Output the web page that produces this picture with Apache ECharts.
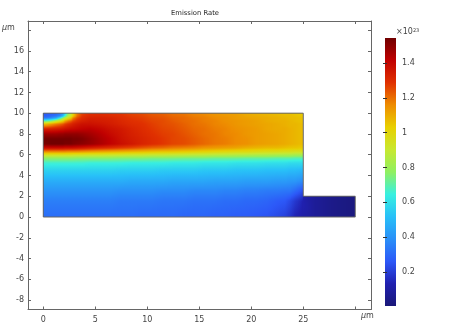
<!DOCTYPE html>
<html>
<head>
<meta charset="utf-8">
<style>html,body{margin:0;background:#fff}#main{width:450px;height:327px}</style>
<script src="https://cdn.jsdelivr.net/npm/echarts@6/dist/echarts.min.js"></script>
</head>
<body>
<div id="main"></div>
<script>
var xTicks = [0, 5, 10, 15, 20, 25, 30];
var xLabels = [0, 5, 10, 15, 20, 25];
var yTicks = [-8, -6, -4, -2, 0, 2, 4, 6, 8, 10, 12, 14, 16, 18];
var yLabels = [-8, -6, -4, -2, 0, 2, 4, 6, 8, 10, 12, 14, 16];
var barTicks = [0.2, 0.4, 0.6, 0.8, 1, 1.2, 1.4];
var barRange = [[0.005, 1.544]];
var valueMin = 0.005;
var valueMax = 1.544;

// outline of the device
var outline = [[0, 0], [0, 10], [25, 10], [25, 2], [30, 2], [30, 0], [0, 0]];

// x positions (um) the columns of the table were read at
var xNodes = [0, .25, .75, 1.25, 1.625, 1.875, 2.125, 2.375, 2.625, 2.875, 3.25, 3.75, 4.5, 5.5, 6.5, 7.5, 8.5, 9.5, 10.5, 11.5, 12.5, 13.5, 14.5, 15.5, 16.5, 17.5, 18.5, 19.5, 20.5, 21.5, 22.5, 23.25, 23.75, 24.25, 24.75, 25];
// heights the rows were read at
var yLevels = [10, 9.75, 9.5, 9.25, 9, 8.5, 8, 7.5, 7, 6.6, 6.3, 6, 5.7, 5.2, 4.5, 3.5, 2.5, 1.5, 0];

// emission rate in 1e23, one row per level, one value per x position
var emission = [
  [.27,.27,.27,.28,.33,.4,.55,.74,.88,1,1.17,1.26, 1.29,1.3,1.29,1.28,1.26,1.25,1.23,1.22,1.2,1.19,1.17,1.16,1.14,1.13,1.12,1.1,1.09,1.08,1.07,1.06,1.06,1.05,1.04,1.04],
  [.28,.28,.3,.33,.38,.5,.66,.84,.93,1.04,1.2,1.28, 1.31,1.31,1.3,1.29,1.27,1.26,1.24,1.23,1.21,1.2,1.18,1.17,1.15,1.14,1.13,1.11,1.1,1.09,1.08,1.07,1.07,1.06,1.05,1.05],
  [.34,.34,.38,.45,.62,.78,.88,.97,1.05,1.17,1.25,1.3, 1.33,1.33,1.32,1.3,1.28,1.27,1.25,1.24,1.22,1.21,1.19,1.18,1.16,1.15,1.13,1.12,1.11,1.1,1.09,1.08,1.07,1.07,1.06,1.06],
  [.7,.7,.76,.88,.96,1.03,1.12,1.18,1.22,1.26,1.3,1.33, 1.35,1.34,1.33,1.31,1.29,1.28,1.26,1.25,1.23,1.21,1.2,1.18,1.17,1.15,1.14,1.13,1.12,1.1,1.09,1.09,1.08,1.07,1.06,1.06],
  [1.07,1.07,1.12,1.17,1.2,1.23,1.26,1.29,1.31,1.33,1.35,1.37, 1.37,1.36,1.34,1.32,1.3,1.29,1.27,1.25,1.24,1.22,1.2,1.19,1.17,1.16,1.14,1.13,1.12,1.11,1.1,1.09,1.08,1.08,1.07,1.07],
  [1.33,1.33,1.33,1.34,1.35,1.36,1.37,1.38,1.39,1.39,1.4,1.41, 1.42,1.4,1.37,1.35,1.32,1.3,1.28,1.26,1.25,1.23,1.21,1.2,1.18,1.17,1.15,1.14,1.13,1.11,1.1,1.1,1.09,1.08,1.07,1.07],
  [1.47,1.47,1.47,1.47,1.48,1.48,1.49,1.49,1.49,1.49,1.49,1.48, 1.46,1.43,1.39,1.36,1.33,1.31,1.29,1.27,1.26,1.24,1.22,1.2,1.19,1.17,1.16,1.14,1.13,1.12,1.11,1.1,1.09,1.08,1.07,1.07],
  [1.54,1.54,1.54,1.54,1.54,1.54,1.54,1.54,1.54,1.53,1.53,1.52, 1.49,1.45,1.41,1.37,1.34,1.32,1.3,1.28,1.26,1.25,1.23,1.21,1.19,1.18,1.16,1.15,1.13,1.12,1.11,1.1,1.09,1.08,1.07,1.07],
  [1.53,1.53,1.54,1.54,1.54,1.54,1.53,1.53,1.53,1.52,1.51,1.5, 1.48,1.45,1.41,1.38,1.35,1.32,1.3,1.28,1.26,1.25,1.23,1.21,1.19,1.18,1.16,1.15,1.13,1.12,1.11,1.1,1.09,1.08,1.07,1.07],
  [1.38,1.38,1.38,1.38,1.38,1.38,1.37,1.37,1.37,1.37,1.36,1.35, 1.33,1.31,1.29,1.27,1.25,1.23,1.21,1.2,1.18,1.17,1.16,1.14,1.13,1.12,1.11,1.09,1.08,1.07,1.07,1.06,1.05,1.05,1.04,1.04],
  [1.14,1.14,1.14,1.14,1.14,1.14,1.14,1.13,1.13,1.13,1.13,1.12, 1.11,1.1,1.09,1.08,1.07,1.06,1.05,1.04,1.04,1.03,1.02,1.01,1,.99,.98,.98,.97,.96,.96,.95,.95,.94,.94,.94],
  [.94,.94,.94,.94,.94,.94,.94,.94,.94,.93,.93,.93, .92,.92,.91,.91,.9,.9,.89,.89,.88,.88,.87,.87,.86,.86,.85,.85,.84,.84,.83,.83,.83,.82,.82,.82],
  [.78,.78,.78,.78,.78,.78,.78,.78,.78,.78,.77,.77, .77,.77,.77,.76,.76,.76,.75,.75,.75,.74,.74,.74,.73,.73,.73,.72,.72,.72,.71,.71,.71,.7,.7,.7],
  [.66,.66,.66,.66,.66,.66,.66,.66,.66,.66,.66,.66, .65,.65,.65,.65,.64,.64,.64,.64,.63,.63,.63,.62,.62,.62,.61,.61,.61,.6,.6,.6,.59,.59,.59,.59],
  [.57,.57,.57,.57,.57,.57,.57,.57,.57,.57,.57,.57, .57,.57,.57,.56,.56,.56,.56,.55,.55,.55,.55,.54,.54,.54,.53,.53,.53,.52,.52,.52,.51,.51,.5,.5],
  [.47,.47,.47,.47,.47,.47,.47,.47,.47,.47,.47,.47, .47,.47,.47,.47,.46,.46,.46,.46,.45,.45,.45,.45,.44,.44,.44,.43,.43,.43,.42,.42,.41,.41,.39,.38],
  [.4,.4,.4,.4,.4,.4,.4,.4,.4,.4,.4,.4, .4,.4,.4,.39,.39,.39,.39,.38,.38,.38,.37,.37,.37,.36,.36,.35,.35,.34,.34,.33,.33,.3,.26,.23],
  [.35,.35,.35,.35,.35,.35,.35,.35,.35,.35,.35,.35, .35,.35,.35,.34,.34,.34,.34,.33,.33,.33,.32,.32,.32,.31,.31,.3,.3,.29,.27,.26,.23,.19,.15,.13],
  [.31,.31,.31,.31,.31,.31,.31,.31,.31,.31,.31,.31, .31,.31,.31,.31,.31,.3,.3,.3,.3,.29,.29,.29,.28,.28,.27,.27,.26,.25,.23,.21,.18,.14,.12,.11]
];

// the thin step on the right
var stepXNodes = [25, 25.5, 26, 27, 28, 30];
var stepLevels = [2, 1, 0];
var stepEmission = [
  [.13, .1, .08, .06, .04, .02],
  [.13, .11, .08, .06, .04, .02],
  [.11, .1, .08, .06, .04, .02]
];

var palette = ['#1a1878', '#2020b0', '#2c58f8', '#2a90f8', '#28c0f8', '#38f0e0', '#90f060',
  '#c8e830', '#e8d000', '#ee8c00', '#e03000', '#c00000', '#700000'];

function colorAt(v) {
  return echarts.color.lerp((v - valueMin) / (valueMax - valueMin), palette);
}

// one cell between two rows and two x positions, with its four corner values
function toCells(xs, ys, rows) {
  var cells = [];
  for (var j = 0; j < rows.length - 1; j++) {
    for (var i = 0; i < xs.length - 1; i++) {
      cells.push([xs[i], xs[i + 1], ys[j], ys[j + 1], rows[j][i], rows[j + 1][i], rows[j][i + 1], rows[j + 1][i + 1]]);
    }
  }
  return cells;
}
var cells = toCells(xNodes, yLevels, emission).concat(toCells(stepXNodes, stepLevels, stepEmission));

// shade the cell from its corner values, one pixel column at a time
function renderCell(params, api) {
  var p0 = api.coord([api.value(0), api.value(2)]);
  var p1 = api.coord([api.value(1), api.value(3)]);
  var x0 = Math.round(p0[0]);
  var x1 = Math.round(p1[0]);
  var y0 = Math.round(p0[1]);
  var y1 = Math.round(p1[1]);
  var children = [];
  for (var px = x0; px < x1; px++) {
    var k = (px + 0.5 - x0) / (x1 - x0);
    var top = api.value(4) + (api.value(6) - api.value(4)) * k;
    var bottom = api.value(5) + (api.value(7) - api.value(5)) * k;
    var stops = [0, 0.25, 0.5, 0.75, 1].map(function (t) {
      return { offset: t, color: colorAt(top + (bottom - top) * t) };
    });
    children.push({
      type: 'rect',
      shape: { x: px, y: y0, width: 1, height: y1 - y0 },
      style: { fill: new echarts.graphic.LinearGradient(0, 0, 0, 1, stops) }
    });
  }
  return { type: 'group', children: children };
}

function renderBar(params, api) {
  var p0 = api.coord([0, api.value(1)]);
  var p1 = api.coord([1, api.value(0)]);
  var stops = palette.map(function (c, i) {
    return { offset: 1 - i / (palette.length - 1), color: c };
  }).reverse();
  return {
    type: 'rect',
    shape: { x: p0[0], y: p0[1], width: p1[0] - p0[0], height: p1[1] - p0[1] },
    style: { fill: new echarts.graphic.LinearGradient(0, 0, 0, 1, stops) }
  };
}

var axisColor = '#666';
var textColor = '#444';
var font = 'DejaVu Sans';

function frameAxis(extra) {
  return Object.assign({
    type: 'value',
    gridIndex: 0,
    splitLine: { show: false },
    axisLine: { onZero: false, lineStyle: { color: axisColor, width: 1 } },
    axisTick: { inside: true, length: 3, lineStyle: { color: axisColor } },
    axisLabel: { show: false }
  }, extra);
}

var unitRich = { i: { fontStyle: 'italic', fontFamily: font, fontSize: 8, fill: textColor } };

var myChart = echarts.init(document.getElementById('main'));
myChart.setOption({
  animation: false,
  title: {
    text: 'Emission Rate',
    left: 171,
    top: 10,
    padding: 0,
    textStyle: { fontFamily: font, fontSize: 6.8, fontWeight: 'normal', color: '#222' }
  },
  grid: [
    { left: 28, top: 21, width: 343, height: 288.5 },
    { left: 385, top: 38, width: 11, height: 268 }
  ],
  xAxis: [
    frameAxis({
      position: 'bottom', min: -1.47, max: 31.51,
      axisTick: { inside: true, length: 3, lineStyle: { color: axisColor }, customValues: xTicks },
      axisLabel: { show: true, customValues: xLabels, color: textColor, fontFamily: font, fontSize: 8, margin: 6 }
    }),
    frameAxis({
      position: 'top', min: -1.47, max: 31.51,
      axisTick: { inside: true, length: 3, lineStyle: { color: axisColor }, customValues: xTicks }
    }),
    { type: 'value', gridIndex: 1, show: false, min: 0, max: 1 }
  ],
  yAxis: [
    frameAxis({
      position: 'left', min: -8.91, max: 18.88,
      axisTick: { inside: true, length: 3, lineStyle: { color: axisColor }, customValues: yTicks },
      axisLabel: { show: true, customValues: yLabels, color: textColor, fontFamily: font, fontSize: 8, margin: 4 }
    }),
    frameAxis({
      position: 'right', min: -8.91, max: 18.88,
      axisTick: { inside: true, length: 3, lineStyle: { color: axisColor }, customValues: yTicks }
    }),
    {
      type: 'value', gridIndex: 1, position: 'right', min: valueMin, max: valueMax, z: 10,
      splitLine: { show: false },
      axisLine: { show: false },
      axisTick: { inside: true, length: 2, lineStyle: { color: '#333' }, customValues: barTicks },
      axisLabel: { customValues: barTicks, color: textColor, fontFamily: font, fontSize: 8, margin: 6 }
    },
    {
      type: 'value', gridIndex: 1, position: 'left', min: valueMin, max: valueMax, z: 10,
      splitLine: { show: false },
      axisLine: { show: false },
      axisTick: { inside: true, length: 2, lineStyle: { color: '#333' }, customValues: barTicks },
      axisLabel: { show: false }
    }
  ],
  graphic: [
    { type: 'text', left: 2, top: 24, style: { text: '{i|μ}m', rich: unitRich, fontFamily: font, fontSize: 8, fill: textColor } },
    { type: 'text', left: 361, top: 312, style: { text: '{i|μ}m', rich: unitRich, fontFamily: font, fontSize: 8, fill: textColor } },
    { type: 'text', left: 396, top: 28, style: { text: '×10{s|23}', rich: { s: { fontFamily: font, fontSize: 5, verticalAlign: 'top', fill: textColor } }, fontFamily: font, fontSize: 8, fill: textColor } }
  ],
  series: [
    {
      type: 'custom',
      xAxisIndex: 0,
      yAxisIndex: 0,
      renderItem: renderCell,
      encode: { x: [0, 1], y: [2, 3] },
      silent: true,
      data: cells
    },
    {
      type: 'line',
      xAxisIndex: 0,
      yAxisIndex: 0,
      data: outline,
      symbol: 'none',
      silent: true,
      z: 5,
      lineStyle: { color: axisColor, width: 1 }
    },
    {
      type: 'custom',
      xAxisIndex: 2,
      yAxisIndex: 2,
      renderItem: renderBar,
      encode: { y: [0, 1] },
      silent: true,
      data: barRange
    }
  ]
});
</script>
</body>
</html>
